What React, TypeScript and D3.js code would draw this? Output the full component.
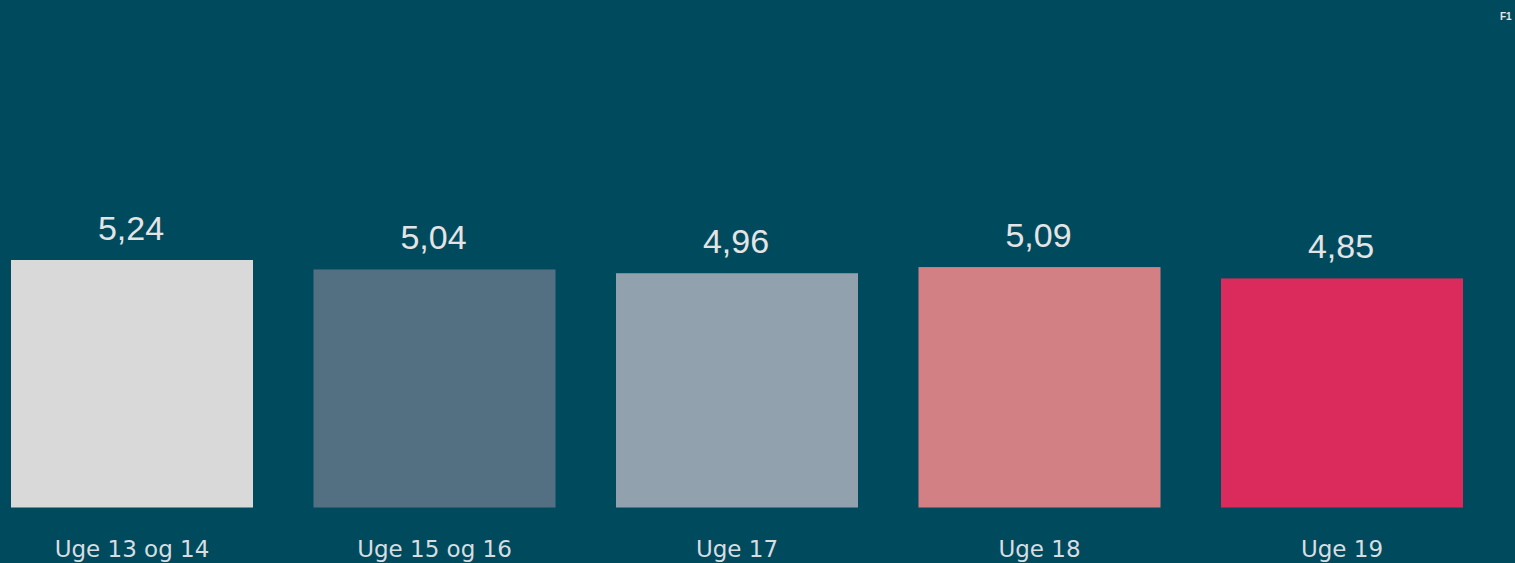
import React from "react";
import * as d3 from "d3";

const categories = ["Uge 13 og 14", "Uge 15 og 16", "Uge 17", "Uge 18", "Uge 19"];
const values = [5.24, 5.04, 4.96, 5.09, 4.85];
const colors = ["#d9d9d9", "#537083", "#91a2ae", "#d38085", "#db2a5c"];

const W = 1515;
const H = 563;

export default function App() {
  const x = d3.scaleBand<string>().domain(categories).range([11, 1463]).paddingInner(0.2).paddingOuter(0);
  const y = d3.scaleLinear().domain([0, 5.24]).range([507.5, 260]);
  const fmt = (v: number) => d3.format(".2f")(v).replace(".", ",");

  return (
    <svg
      width={W}
      height={H}
      style={{ position: "fixed", left: 0, top: 0, display: "block" }}
    >
      <rect width={W} height={H} fill="#004a5e" />
      <text x={1500} y={20} fontFamily="Liberation Sans, Arial, sans-serif" fontSize={10} fontWeight="bold" fill="#e6e6e6">
        F1
      </text>
      {values.map((v, i) => {
        const cx = (x(categories[i]) ?? 0) + x.bandwidth() / 2;
        return (
          <g key={categories[i]}>
            <rect
              x={x(categories[i])}
              y={y(v)}
              width={x.bandwidth()}
              height={y(0) - y(v)}
              fill={colors[i]}
            />
            <text
              x={cx - 1}
              y={y(v) - 20}
              textAnchor="middle"
              fontFamily="Liberation Sans, Arial, sans-serif"
              fontSize={34}
              fill="#e4e4e4"
            >
              {fmt(v)}
            </text>
            <text
              x={cx}
              y={557}
              textAnchor="middle"
              fontFamily="DejaVu Sans, Verdana, sans-serif"
              fontSize={23}
              fill="#d8dde0"
            >
              {categories[i]}
            </text>
          </g>
        );
      })}
    </svg>
  );
}
